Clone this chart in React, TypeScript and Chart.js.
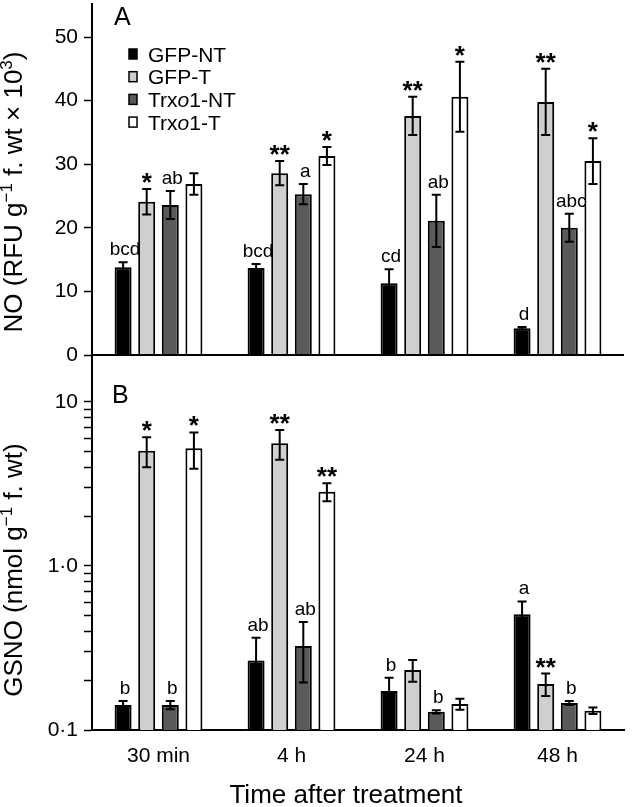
import React, { useEffect, useRef } from 'react';
import { Chart, registerables } from 'chart.js';

Chart.register(...registerables);

const FONT = '"Liberation Sans", Arial, Helvetica, sans-serif';

// ---------- data ----------
const categories = ['30 min', '4 h', '24 h', '48 h'];
const seriesNames = ['GFP-NT', 'GFP-T', 'Trxo1-NT', 'Trxo1-T'];
const seriesColors = ['#000000', '#cfcfcf', '#5a5a5a', '#ffffff'];

// Panel A: NO (RFU g-1 f. wt x 10^3)
const noGfpNT = [13.8, 13.7, 11.3, 4.2];
const noGfpT = [24.1, 28.6, 37.6, 39.8];
const noTrxNT = [23.6, 25.3, 21.1, 20.0];
const noTrxT = [26.9, 31.3, 40.6, 30.5];
const noErrGfpNT = [0.8, 0.6, 2.2, 0.2];
const noErrGfpT = [2.0, 1.9, 3.0, 5.2];
const noErrTrxNT = [2.2, 1.6, 4.1, 2.2];
const noErrTrxT = [1.7, 1.4, 5.5, 3.6];
const noMarkGfpNT = ['bcd', 'bcd', 'cd', 'd'];
const noMarkGfpT = ['*', '**', '**', '**'];
const noMarkTrxNT = ['ab', 'a', 'ab', 'abc'];
const noMarkTrxT = ['', '*', '*', '*'];
const noTicks = [0, 10, 20, 30, 40, 50];

// Panel B: GSNO (nmol g-1 f. wt), log scale
const gsnoGfpNT = [0.142, 0.265, 0.173, 0.508];
const gsnoGfpT = [5.05, 5.6, 0.232, 0.191];
const gsnoTrxNT = [0.142, 0.325, 0.129, 0.146];
const gsnoTrxT = [5.22, 2.84, 0.144, 0.131];
const gsnoErrGfpNT = [0.008, 0.1, 0.035, 0.1];
const gsnoErrGfpT = [1.05, 1.15, 0.035, 0.03];
const gsnoErrTrxNT = [0.008, 0.13, 0.003, 0.004];
const gsnoErrTrxT = [1.3, 0.36, 0.011, 0.006];
const gsnoMarkGfpNT = ['b', 'ab', 'b', 'a'];
const gsnoMarkGfpT = ['*', '**', '', '**'];
const gsnoMarkTrxNT = ['b', 'ab', 'b', 'b'];
const gsnoMarkTrxT = ['*', '**', '', ''];
const gsnoTickValues = [0.1, 0.2, 0.3, 0.4, 0.5, 0.6, 0.7, 0.8, 0.9, 1, 2, 3, 4, 5, 6, 7, 8, 9, 10];
const gsnoLabelValues = [0.1, 1, 10];
const gsnoLabelTexts = ['0·1', '1·0', '10'];

const noSeries = [noGfpNT, noGfpT, noTrxNT, noTrxT];
const noErrs = [noErrGfpNT, noErrGfpT, noErrTrxNT, noErrTrxT];
const noMarks = [noMarkGfpNT, noMarkGfpT, noMarkTrxNT, noMarkTrxT];
const gsnoSeries = [gsnoGfpNT, gsnoGfpT, gsnoTrxNT, gsnoTrxT];
const gsnoErrs = [gsnoErrGfpNT, gsnoErrGfpT, gsnoErrTrxNT, gsnoErrTrxT];
const gsnoMarks = [gsnoMarkGfpNT, gsnoMarkGfpT, gsnoMarkTrxNT, gsnoMarkTrxT];

type Run = { t: string; size: number; italic?: boolean; dy?: number };

function drawRuns(ctx: CanvasRenderingContext2D, runs: Run[], x: number, y: number, align: 'left' | 'center') {
  ctx.textAlign = 'left';
  ctx.textBaseline = 'alphabetic';
  const widths = runs.map((r) => {
    ctx.font = `${r.italic ? 'italic ' : ''}${r.size}px ${FONT}`;
    return ctx.measureText(r.t).width;
  });
  const total = widths.reduce((a, b) => a + b, 0);
  let cx = align === 'center' ? x - total / 2 : x;
  runs.forEach((r, i) => {
    ctx.font = `${r.italic ? 'italic ' : ''}${r.size}px ${FONT}`;
    ctx.fillText(r.t, cx, y + (r.dy || 0));
    cx += widths[i];
  });
}

function nameRuns(name: string, size: number): Run[] {
  if (name.startsWith('Trxo')) {
    return [
      { t: 'Trx', size },
      { t: 'o', size, italic: true },
      { t: name.slice(4), size },
    ];
  }
  return [{ t: name, size }];
}

function drawErrorsAndMarks(chart: any, errs: number[][], marks: string[][]) {
  const ctx: CanvasRenderingContext2D = chart.ctx;
  const ys = chart.scales.y;
  ctx.strokeStyle = '#000';
  ctx.fillStyle = '#000';
  ctx.lineWidth = 2;
  chart.data.datasets.forEach((ds: any, i: number) => {
    const meta = chart.getDatasetMeta(i);
    meta.data.forEach((bar: any, j: number) => {
      const v = ds.data[j];
      const e = errs[i][j];
      const top = ys.getPixelForValue(v + e);
      const bot = ys.getPixelForValue(v - e);
      const cap = 4.5;
      ctx.beginPath();
      ctx.moveTo(bar.x, top);
      ctx.lineTo(bar.x, bot);
      ctx.moveTo(bar.x - cap, top);
      ctx.lineTo(bar.x + cap, top);
      ctx.moveTo(bar.x - cap, bot);
      ctx.lineTo(bar.x + cap, bot);
      ctx.stroke();
      const m = marks[i][j];
      if (m) {
        ctx.textAlign = 'center';
        ctx.textBaseline = 'alphabetic';
        if (m.startsWith('*')) {
          ctx.font = `bold 26px ${FONT}`;
          ctx.fillText(m, bar.x, top + 2);
        } else {
          ctx.font = `19px ${FONT}`;
          ctx.fillText(m, bar.x + 2, top - 7);
        }
      }
    });
  });
}

function drawYTitle(ctx: CanvasRenderingContext2D, runs: Run[], x: number, cy: number) {
  ctx.save();
  ctx.translate(x, cy);
  ctx.rotate(-Math.PI / 2);
  ctx.fillStyle = '#000';
  drawRuns(ctx, runs, 0, 0, 'center');
  ctx.restore();
}

const panelAPlugin = {
  id: 'panelA',
  afterDatasetsDraw(chart: any) {
    const ctx: CanvasRenderingContext2D = chart.ctx;
    const ys = chart.scales.y;
    const { left, right } = chart.chartArea;
    ctx.save();
    ctx.strokeStyle = '#000';
    ctx.lineWidth = 2;
    const y0 = ys.getPixelForValue(0);
    ctx.beginPath();
    ctx.moveTo(left, y0);
    ctx.lineTo(right, y0);
    ctx.stroke();
    drawErrorsAndMarks(chart, noErrs, noMarks);

    // legend
    seriesNames.forEach((name, k) => {
      const cy = 54 + 22.7 * k;
      ctx.fillStyle = seriesColors[k];
      ctx.fillRect(129, cy - 5, 8, 10);
      ctx.strokeStyle = '#000';
      ctx.lineWidth = 1.5;
      ctx.strokeRect(129, cy - 5, 8, 10);
      ctx.fillStyle = '#000';
      drawRuns(ctx, nameRuns(name, 21), 148, cy + 7.5, 'left');
    });

    // panel letter
    ctx.fillStyle = '#000';
    ctx.font = `25px ${FONT}`;
    ctx.textAlign = 'left';
    ctx.textBaseline = 'alphabetic';
    ctx.fillText('A', 114, 25);

    drawYTitle(
      ctx,
      [
        { t: 'NO (RFU g', size: 26 },
        { t: '−1', size: 17, dy: -10 },
        { t: ' f. wt × 10', size: 26 },
        { t: '3', size: 17, dy: -10 },
        { t: ')', size: 26 },
      ],
      22,
      192
    );
    ctx.restore();
  },
};

const panelBPlugin = {
  id: 'panelB',
  afterDatasetsDraw(chart: any) {
    const ctx: CanvasRenderingContext2D = chart.ctx;
    ctx.save();
    drawErrorsAndMarks(chart, gsnoErrs, gsnoMarks);
    ctx.fillStyle = '#000';
    ctx.font = `25px ${FONT}`;
    ctx.textAlign = 'left';
    ctx.textBaseline = 'alphabetic';
    ctx.fillText('B', 112, 27);

    drawYTitle(
      ctx,
      [
        { t: 'GSNO (nmol g', size: 26 },
        { t: '−1', size: 17, dy: -10 },
        { t: ' f. wt)', size: 26 },
      ],
      22,
      194
    );

    ctx.fillStyle = '#000';
    drawRuns(ctx, [{ t: 'Time after treatment', size: 26 }], 346, 427, 'center');
    ctx.restore();
  },
};

const tickFont = { family: FONT, size: 21 };

function makeDatasets(series: number[][]) {
  return series.map((vals, i) => ({
    label: seriesNames[i],
    data: vals,
    backgroundColor: seriesColors[i],
    borderColor: '#000000',
    borderWidth: 2,
    categoryPercentage: 0.71,
    barPercentage: 0.72,
  }));
}

const yAfterFit = (s: any) => {
  s.width = 92;
  s.paddingTop = 0;
  s.paddingBottom = 0;
};

export default function App() {
  const refA = useRef<HTMLCanvasElement | null>(null);
  const refB = useRef<HTMLCanvasElement | null>(null);

  useEffect(() => {
    const chartA = new Chart(refA.current as HTMLCanvasElement, {
      type: 'bar',
      data: { labels: categories, datasets: makeDatasets(noSeries) as any },
      options: {
        responsive: false,
        animation: false,
        devicePixelRatio: 1,
        layout: { padding: { left: 0, right: 10, top: 4, bottom: 0 } },
        plugins: { legend: { display: false }, tooltip: { enabled: false } },
        scales: {
          x: { display: false, offset: true },
          y: {
            min: -3.3,
            max: 55.2,
            afterFit: yAfterFit,
            afterBuildTicks: (s: any) => {
              s.ticks = noTicks.map((v) => ({ value: v }));
            },
            ticks: { font: tickFont, color: '#000', padding: 6, autoSkip: false },
            grid: { drawOnChartArea: false, drawTicks: true, tickLength: 8, tickWidth: 1.5, tickColor: '#000' },
            border: { display: true, color: '#000', width: 2 },
          },
        },
      } as any,
      plugins: [panelAPlugin],
    });

    const chartB = new Chart(refB.current as HTMLCanvasElement, {
      type: 'bar',
      data: { labels: categories, datasets: makeDatasets(gsnoSeries) as any },
      options: {
        responsive: false,
        animation: false,
        devicePixelRatio: 1,
        layout: { padding: { left: 0, right: 10, top: 0, bottom: 0 } },
        plugins: { legend: { display: false }, tooltip: { enabled: false } },
        scales: {
          x: {
            offset: true,
            afterFit: (s: any) => {
              s.height = 77;
              s.paddingLeft = 0;
              s.paddingRight = 0;
            },
            ticks: { font: tickFont, color: '#000', padding: 14, maxRotation: 0, autoSkip: false },
            grid: { display: true, drawOnChartArea: false, drawTicks: false },
            border: { display: true, color: '#000', width: 2 },
          },
          y: {
            type: 'logarithmic',
            min: 0.1,
            max: 14.4,
            afterFit: yAfterFit,
            afterBuildTicks: (s: any) => {
              s.ticks = gsnoTickValues.map((v) => ({ value: v }));
            },
            ticks: {
              font: tickFont,
              color: '#000',
              padding: 6,
              autoSkip: false,
              callback: (v: any) => {
                const k = gsnoLabelValues.findIndex((lv) => Math.abs(lv - Number(v)) < 1e-9);
                return k >= 0 ? gsnoLabelTexts[k] : '';
              },
            },
            grid: { drawOnChartArea: false, drawTicks: true, tickLength: 8, tickWidth: 1.5, tickColor: '#000' },
            border: { display: true, color: '#000', width: 2 },
          },
        },
      } as any,
      plugins: [panelBPlugin],
    });

    return () => {
      chartA.destroy();
      chartB.destroy();
    };
  }, []);

  return (
    <div style={{ position: 'absolute', left: 0, top: 0, width: 634, height: 807, background: '#fff' }}>
      <canvas ref={refA} width={634} height={376} style={{ position: 'absolute', left: 0, top: 0, display: 'block' }} />
      <canvas ref={refB} width={634} height={431} style={{ position: 'absolute', left: 0, top: 376, display: 'block' }} />
    </div>
  );
}
